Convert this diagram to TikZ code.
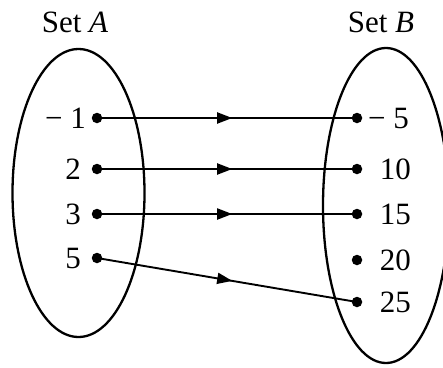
\documentclass[tikz,border=0pt]{standalone}
\usepackage{fontspec}
\setmainfont{Liberation Serif}
\usetikzlibrary{arrows.meta,decorations.markings}
\tikzset{
  setoval/.style={draw, line width=2.3pt},
  elemdot/.style={circle, fill=black, inner sep=0pt, minimum size=10.5pt},
  lbl/.style={inner sep=0pt, font=\fontsize{31pt}{36pt}\selectfont},
  maparrow/.style={line width=1.9pt, postaction={decorate},
    decoration={markings, mark=at position 0.52 with {\arrow{Triangle[length=15pt,width=11pt]}}}}
}
\begin{document}
\begin{tikzpicture}[x=1pt,y=-1pt]
\useasboundingbox (0,0) rectangle (443,367);
% ellipses
\draw[setoval] (78.5,193) ellipse [x radius=66, y radius=144];
\draw[setoval] (386,205.5) ellipse [x radius=63, y radius=157.5];
% titles
\node[lbl, anchor=base] (ta) at (75,32) {Set \textit{A}};
\node[lbl, anchor=base] (tb) at (381,32) {Set \textit{B}};
% left dots
\node[elemdot] (a1) at (97,118) {};
\node[elemdot] (a2) at (97,169) {};
\node[elemdot] (a3) at (97,214) {};
\node[elemdot] (a4) at (97,258) {};
% right dots
\node[elemdot] (b1) at (357,118) {};
\node[elemdot] (b2) at (357,169) {};
\node[elemdot] (b3) at (357,214) {};
\node[elemdot] (b4) at (357,260) {};
\node[elemdot] (b5) at (357,302) {};
% left labels
\node[lbl, anchor=base east] (la1) at (86,128) {− 1};
\node[lbl, anchor=base east] (la2) at (81,179) {2};
\node[lbl, anchor=base east] (la3) at (81,224) {3};
\node[lbl, anchor=base east] (la4) at (81,268) {5};
% right labels
\node[lbl, anchor=base east] (lb1) at (409,128) {− 5};
\node[lbl, anchor=base east] (lb2) at (411,179) {10};
\node[lbl, anchor=base east] (lb3) at (411,224) {15};
\node[lbl, anchor=base east] (lb4) at (411,270) {20};
\node[lbl, anchor=base east] (lb5) at (411,312) {25};
% arrows
\draw[maparrow] (a1.center) -- (b1.center);
\draw[maparrow] (a2.center) -- (b2.center);
\draw[maparrow] (a3.center) -- (b3.center);
\draw[maparrow] (a4.center) -- (b5.center);
\end{tikzpicture}
\end{document}
